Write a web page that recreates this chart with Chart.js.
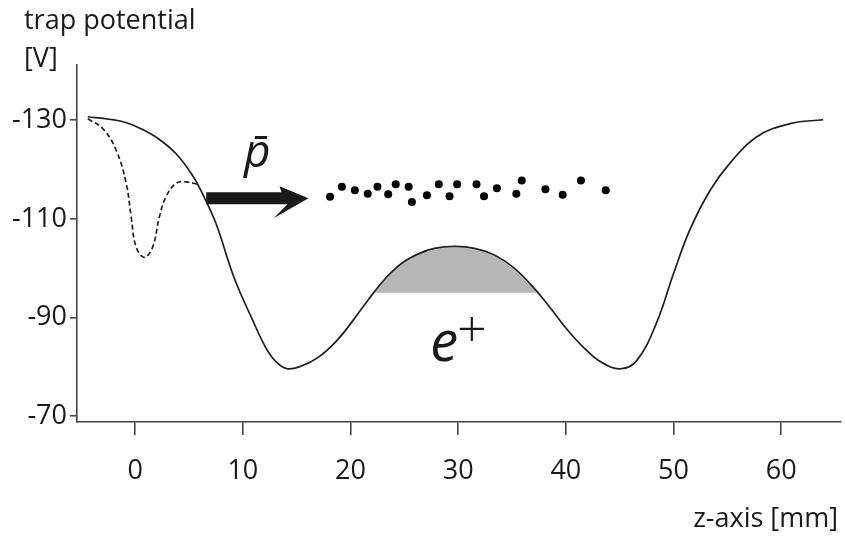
<!DOCTYPE html>
<html>
<head>
<meta charset="utf-8">
<script src="https://cdn.jsdelivr.net/npm/chart.js@4.4.0/dist/chart.umd.min.js"></script>
<style>
  html, body { margin: 0; padding: 0; background: #fff; }
  #wrap { width: 845px; height: 536px; }
</style>
</head>
<body>
<div id="wrap"><canvas id="chartTrap"></canvas></div>
<script>
// trap potential along z (solid line)
const trapZ = [-4.4, -2.4, -0.8, 0.7, 2.25, 3.8, 5.3, 6.25, 7.5, 9.2, 10.9, 12.1, 13.0, 14.1,
               15.5, 17.0, 18.6, 20.1, 21.65, 23.2, 24.7, 26.3, 27.8, 29.7, 31.5, 33.4, 35.2,
               37.1, 38.6, 40.1, 41.7, 43.3, 45.1, 46.6, 48.4, 50.0, 51.5, 53.4, 55.2, 57.7,
               60.8, 63.9]
const trapV = [-130.7, -130.2, -129.5, -128.1, -126.1, -123.2, -118.9, -115.1, -109.1, -98.0, -89.5, -84.0, -81.2, -79.6,
               -80.2, -81.9, -85.0, -89.0, -93.6, -97.8, -100.9, -102.9, -104.0, -104.4, -104.0, -102.6, -100.0,
               -95.8, -91.8, -87.6, -83.8, -80.9, -79.6, -81.3, -88.8, -98.9, -107.7, -115.8, -121.2, -126.6,
               -129.3, -130.1]

// catching well (dashed line)
const catchZ = [-4.4, -3.0, -1.76, -0.83, -0.37, 0.09, 0.86, 1.63, 2.25, 2.87, 3.79, 4.71, 5.8]
const catchV = [-130.3, -128.3, -123.9, -117.2, -110.4, -104.3, -102.2, -104.3, -110.4, -114.5, -117.2, -117.5, -117.0]

// antiprotons (dots)
const pbarZ = [18.1, 19.2, 20.4, 21.6, 22.5, 23.5, 24.2, 25.4, 25.7, 27.1, 28.2, 29.2, 29.9, 31.7,
               32.4, 33.6, 35.4, 35.9, 38.1, 39.7, 41.4, 43.7]
const pbarV = [-114.5, -116.5, -115.8, -115.1, -116.5, -115.0, -117.0, -116.5, -113.4, -114.8, -117.0, -114.6, -117.0, -117.0,
               -114.6, -116.2, -115.1, -117.8, -116.0, -114.9, -117.8, -115.8]

// positron cloud: filled part of the central hump
const positronEdges = [22.0, 37.4]
const positronLevel = -95

const xTicks = [0, 10, 20, 30, 40, 50, 60]
const yTicks = [-130, -110, -90, -70]

const FONT = "'Open Sans', 'DejaVu Sans', sans-serif"
const INK = '#1a1a1a'

const toPoints = (xs, ys) => xs.map((x, i) => ({ x: x, y: ys[i] }))

const trapPoints = toPoints(trapZ, trapV)
const positronPoints = [{ x: positronEdges[0], y: positronLevel }]
    .concat(trapPoints.filter(p => p.x > positronEdges[0] && p.x < positronEdges[1]))
    .concat([{ x: positronEdges[1], y: positronLevel }])

// texts and arrow, anchored in data units
const labels = {
    pbar: { z: 10.1, v: -120.6 },
    pos: { z: 27.4, v: -81.2 },
    arrow: { from: 6.6, to: 16.1, v: -114.2 }
}

const annotations = {
    id: 'annotations',
    afterDatasetsDraw(chart) {
        const ctx = chart.ctx
        const xs = chart.scales.x, ys = chart.scales.y
        ctx.save()
        ctx.fillStyle = INK

        // arrow
        const ax0 = xs.getPixelForValue(labels.arrow.from)
        const ax1 = xs.getPixelForValue(labels.arrow.to)
        const ay = ys.getPixelForValue(labels.arrow.v)
        ctx.beginPath()
        ctx.moveTo(ax0, ay - 6)
        ctx.lineTo(ax1 - 27, ay - 6)
        ctx.lineTo(ax1 - 29, ay - 12)
        ctx.lineTo(ax1, ay)
        ctx.lineTo(ax1 - 35, ay + 20)
        ctx.lineTo(ax1 - 21, ay + 6)
        ctx.lineTo(ax0, ay + 6)
        ctx.closePath()
        ctx.fill()

        // p-bar label
        ctx.textBaseline = 'alphabetic'
        ctx.textAlign = 'left'
        ctx.font = 'italic 46px ' + FONT
        ctx.fillText('p\u0304', xs.getPixelForValue(labels.pbar.z), ys.getPixelForValue(labels.pbar.v))

        // e+ label
        const ex = xs.getPixelForValue(labels.pos.z)
        const ey = ys.getPixelForValue(labels.pos.v)
        ctx.font = 'italic 56px ' + FONT
        ctx.fillText('e', ex, ey)
        const ew = ctx.measureText('e').width
        ctx.font = '300 52px ' + FONT
        ctx.fillText('+', ex + ew - 1, ey - 14)

        // axis titles
        ctx.font = '27px ' + FONT
        ctx.fillText('trap potential', 24, 29)
        ctx.fillText('[V]', 24, 67)
        ctx.textAlign = 'right'
        ctx.fillText('z-axis [mm]', 838, 527)
        ctx.restore()
    }
}

new Chart(
    document.getElementById('chartTrap').getContext('2d'),
    {
        type: 'scatter',
        data: {
            datasets: [
                {
                    label: 'Antiprotons',
                    data: toPoints(pbarZ, pbarV),
                    backgroundColor: '#000',
                    borderWidth: 0,
                    pointRadius: 4,
                    order: 0
                },
                {
                    label: 'Trap potential',
                    data: trapPoints,
                    showLine: true,
                    borderColor: '#1e1e1e',
                    borderWidth: 1.7,
                    pointRadius: 0,
                    tension: 0.4,
                    order: 1
                },
                {
                    label: 'Catching well',
                    data: toPoints(catchZ, catchV),
                    showLine: true,
                    borderColor: '#222',
                    borderWidth: 1.7,
                    borderDash: [5, 3],
                    pointRadius: 0,
                    tension: 0.4,
                    order: 2
                },
                {
                    label: 'Positrons',
                    data: positronPoints,
                    showLine: true,
                    borderColor: '#fff',
                    borderWidth: 2,
                    backgroundColor: '#b6b6b6',
                    fill: { value: positronLevel },
                    pointRadius: 0,
                    tension: 0.4,
                    order: 3
                }
            ]
        },
        options: {
            responsive: true,
            maintainAspectRatio: false,
            animation: false,
            layout: { padding: { top: 65, left: 0, right: 0, bottom: 0 } },
            plugins: {
                legend: { display: false },
                tooltip: { enabled: false }
            },
            scales: {
                x: {
                    type: 'linear',
                    min: -5.4,
                    max: 65.55,
                    afterBuildTicks: axis => { axis.ticks = xTicks.map(v => ({ value: v })) },
                    afterFit: axis => { axis.height = 114 },
                    grid: { drawOnChartArea: false, tickLength: 13, color: '#444', lineWidth: 1.6 },
                    border: { display: true, color: '#444', width: 1.6 },
                    ticks: { autoSkip: false, maxRotation: 0, padding: 20, color: INK, font: { family: FONT, size: 27 } }
                },
                y: {
                    type: 'linear',
                    reverse: true,
                    min: -141.2,
                    max: -68.8,
                    afterBuildTicks: axis => { axis.ticks = yTicks.map(v => ({ value: v })) },
                    afterFit: axis => { axis.width = 77 },
                    grid: { drawOnChartArea: false, tickLength: 7, color: '#444', lineWidth: 1.6 },
                    border: { display: true, color: '#444', width: 1.6 },
                    ticks: { autoSkip: false, padding: 3, color: INK, font: { family: FONT, size: 27 } }
                }
            }
        },
        plugins: [annotations]
    }
)
</script>
</body>
</html>
